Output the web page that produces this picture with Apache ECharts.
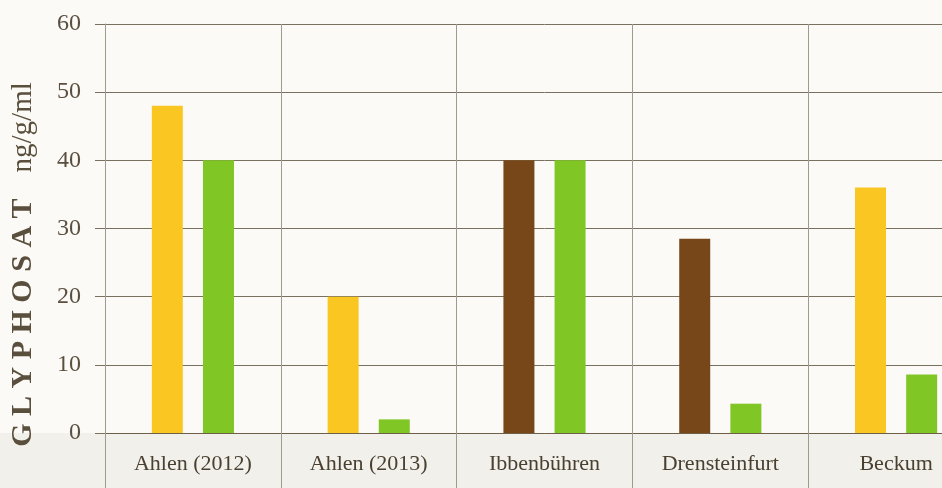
<!DOCTYPE html>
<html>
<head>
<meta charset="utf-8">
<script src="https://cdn.jsdelivr.net/npm/echarts@6/dist/echarts.min.js"></script>
<style>
html,body{margin:0;padding:0;background:#fbfaf6;overflow:hidden;width:942px;height:488px;}
#c{width:984px;height:488px;}
</style>
</head>
<body>
<div id="c"></div>
<script>
var categories = ['Ahlen (2012)', 'Ahlen (2013)', 'Ibbenbühren', 'Drensteinfurt', 'Beckum'];
var yellowValues = [48, 20, null, null, 36];
var brownValues = [null, null, 40, 28.5, null];
var greenValues = [40, 2, 40, 4.3, 8.6];
var yMin = 0, yMax = 60, yStep = 10;

var chart = echarts.init(document.getElementById('c'), null, {renderer: 'canvas'});
var serif = '"Liberation Serif", "DejaVu Serif", serif';
chart.setOption({
  backgroundColor: '#fbfaf6',
  animation: false,
  graphic: [{
    type: 'rect', left: 0, bottom: 0, z: -10,
    shape: {width: 984, height: 55},
    style: {fill: '#f1f0ea'}
  }],
  grid: {left: 104, top: 24, bottom: 55, right: 0, containLabel: false},
  xAxis: {
    type: 'category',
    data: categories,
    axisLine: {show: true, lineStyle: {color: '#6e6048', width: 1}},
    axisTick: {show: true, length: 55, inside: false, lineStyle: {color: '#a09a8c', width: 1}},
    axisLabel: {color: '#4a4032', fontFamily: serif, fontSize: 22, margin: 20},
    splitLine: {show: true, lineStyle: {color: '#a09a8c', width: 1}}
  },
  yAxis: {
    type: 'value',
    min: yMin, max: yMax, interval: yStep,
    name: '{a|G L Y P H O S A T}{b|ng/g/ml}',
    nameLocation: 'middle',
    nameRotate: 90,
    nameGap: 67,
    nameTextStyle: {
      padding: [0, 72, 0, 0],
      rich: {
        a: {fontFamily: serif, fontWeight: 'bold', fontSize: 30, color: '#5a4e3c'},
        b: {fontFamily: serif, fontSize: 29, color: '#5a4e3c', padding: [0, 0, 0, 26]}
      }
    },
    axisLine: {show: true, lineStyle: {color: '#a09a8c', width: 1}},
    axisTick: {show: true, length: 10, inside: false, lineStyle: {color: '#7a7060', width: 1}},
    axisLabel: {color: '#5b5040', fontFamily: serif, fontSize: 24, margin: 24},
    splitLine: {show: true, lineStyle: {color: '#7a7060', width: 1}}
  },
  series: [
    {name: 'gelb', type: 'bar', stack: 'links', data: yellowValues, barWidth: 31, barGap: '65%',
     itemStyle: {color: '#fac622'}},
    {name: 'braun', type: 'bar', stack: 'links', data: brownValues, barWidth: 31, barGap: '65%',
     itemStyle: {color: '#774719'}},
    {name: 'grün', type: 'bar', data: greenValues, barWidth: 31, barGap: '65%',
     itemStyle: {color: '#80c726'}}
  ]
});
</script>
</body>
</html>
